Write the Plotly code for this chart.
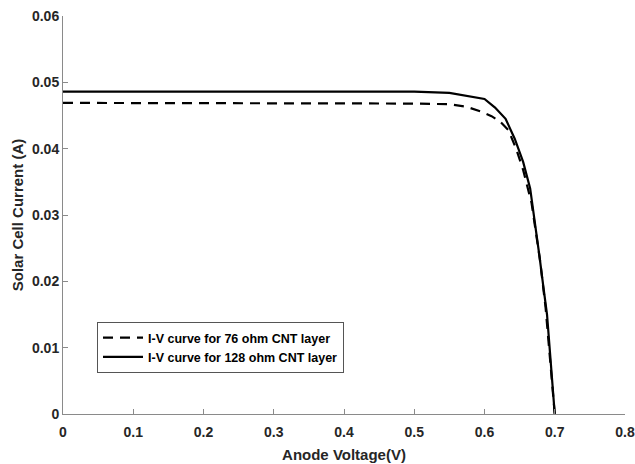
import plotly.graph_objects as go

# Data
v_76 = [0, 0.1, 0.2, 0.3, 0.4, 0.5, 0.55, 0.575, 0.595, 0.61, 0.622, 0.634, 0.645, 0.655, 0.667, 0.679, 0.687, 0.693, 0.7]
i_76 = [0.0469, 0.0469, 0.0469, 0.0469, 0.0469, 0.0468, 0.0467, 0.0463, 0.0456, 0.0449, 0.0441, 0.0428, 0.0400, 0.0368, 0.0318, 0.0232, 0.0160, 0.0082, 0]

v_128 = [0, 0.1, 0.2, 0.3, 0.4, 0.5, 0.55, 0.6, 0.615, 0.63, 0.643, 0.655, 0.665, 0.672, 0.678, 0.684, 0.689, 0.694, 0.7]
i_128 = [0.0486, 0.0486, 0.0486, 0.0486, 0.0486, 0.0486, 0.0484, 0.0475, 0.0462, 0.0445, 0.0415, 0.0380, 0.0340, 0.0290, 0.0240, 0.0190, 0.0150, 0.0082, 0]

x_ticks = [0, 0.1, 0.2, 0.3, 0.4, 0.5, 0.6, 0.7, 0.8]
x_labels = ["0", "0.1", "0.2", "0.3", "0.4", "0.5", "0.6", "0.7", "0.8"]
y_ticks = [0, 0.01, 0.02, 0.03, 0.04, 0.05, 0.06]
y_labels = ["0", "0.01", "0.02", "0.03", "0.04", "0.05", "0.06"]

font = "Liberation Sans, Arial, sans-serif"

fig = go.Figure()
fig.add_trace(go.Scatter(x=v_76, y=i_76, mode="lines", name="<b>I-V curve for 76 ohm CNT layer</b>",
                         line=dict(color="black", width=2.2, dash="10px,7px")))
fig.add_trace(go.Scatter(x=v_128, y=i_128, mode="lines", name="<b>I-V curve for 128 ohm CNT layer</b>",
                         line=dict(color="black", width=2.2)))

axis_common = dict(showgrid=False, zeroline=False, showline=True, linecolor="#8a8a8a", linewidth=1,
                   ticks="inside", ticklen=5, tickcolor="#8a8a8a", mirror=False, automargin=False,
                   tickfont=dict(family=font, size=14, color="#262626"))

fig.update_layout(
    width=635, height=464,
    margin=dict(l=63, r=10, t=16, b=50),
    paper_bgcolor="white", plot_bgcolor="white",
    font=dict(family=font, color="#262626"),
    xaxis=dict(range=[0, 0.8], tickvals=x_ticks, ticktext=["<b>%s</b>" % t for t in x_labels],
               ticklabelstandoff=5,
               title=dict(text="<b>Anode Voltage(V)</b>", font=dict(family=font, size=15, color="#262626"), standoff=10),
               **axis_common),
    yaxis=dict(range=[0, 0.06], tickvals=y_ticks, ticktext=["<b>%s</b>" % t for t in y_labels],
               title=dict(text="<b>Solar Cell Current (A)</b>", font=dict(family=font, size=15, color="#262626"), standoff=4),
               **axis_common),
    legend=dict(x=0.0605, y=0.231, xanchor="left", yanchor="top", bgcolor="white",
                bordercolor="#555555", borderwidth=1, tracegroupgap=0,
                font=dict(family=font, size=12.5, color="black"), itemwidth=40),
    showlegend=True,
)

fig.write_html("out.html", config={"displayModeBar": False},
               post_script="document.body.style.margin='0';document.body.style.overflow='hidden';")
